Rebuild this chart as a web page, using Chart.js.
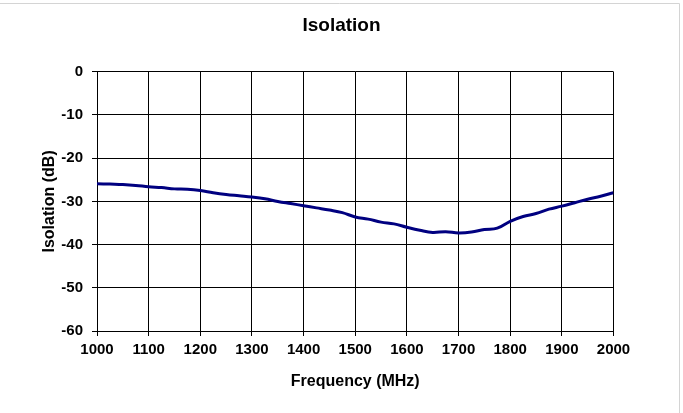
<!DOCTYPE html>
<html>
<head>
<meta charset="utf-8">
<script src="https://cdn.jsdelivr.net/npm/chart.js@4/dist/chart.umd.min.js"></script>
<style>
html,body{margin:0;padding:0;background:#fff;}
#wrap{width:683px;height:413px;position:relative;}
</style>
</head>
<body>
<div id="wrap"><canvas id="c" width="683" height="413"></canvas></div>
<script>
const frequencies = [1000,1025,1050,1075,1100,1125,1150,1175,1200,1225,1250,1275,1300,1325,1350,1375,1400,1425,1450,1475,1500,1525,1550,1575,1600,1625,1650,1675,1700,1725,1750,1775,1800,1825,1850,1875,1900,1925,1950,1975,2000];
const isolation = [-25.9,-26.0,-26.1,-26.3,-26.6,-26.8,-27.1,-27.2,-27.5,-28.0,-28.4,-28.7,-29.0,-29.4,-30.0,-30.5,-31.0,-31.5,-32.0,-32.6,-33.6,-34.1,-34.8,-35.2,-36.0,-36.7,-37.2,-37.0,-37.3,-37.1,-36.5,-36.2,-34.6,-33.5,-32.8,-31.8,-31.1,-30.3,-29.5,-28.8,-28.0];
const xTicks = [1000,1100,1200,1300,1400,1500,1600,1700,1800,1900,2000];
const yTicks = [0,-10,-20,-30,-40,-50,-60];
const chartTitle = 'Isolation';
const xTitle = 'Frequency (MHz)';
const yTitle = 'Isolation (dB)';

const FONT = '"Liberation Sans", Arial, sans-serif';

const frame = {
  id: 'frame',
  beforeDraw(chart) {
    const ctx = chart.ctx;
    ctx.save();
    ctx.fillStyle = '#ffffff';
    ctx.fillRect(0, 0, chart.width, chart.height);
    ctx.restore();
  },
  afterDraw(chart) {
    const ctx = chart.ctx;
    ctx.save();
    ctx.strokeStyle = '#d4d4d4';
    ctx.lineWidth = 1;
    ctx.beginPath();
    ctx.moveTo(0, 3.5);
    ctx.lineTo(679.5, 3.5);
    ctx.lineTo(679.5, 413);
    ctx.stroke();
    ctx.restore();
  }
};

new Chart(document.getElementById('c'), {
  type: 'line',
  data: {
    datasets: [{
      data: frequencies.map((f, i) => ({x: f, y: isolation[i]})),
      borderColor: '#000080',
      borderWidth: 3,
      pointRadius: 0,
      tension: 0.4,
      fill: false
    }]
  },
  options: {
    responsive: false,
    animation: false,
    devicePixelRatio: 1,
    layout: { padding: 0 },
    plugins: {
      legend: { display: false },
      tooltip: { enabled: false },
      title: {
        display: true,
        text: chartTitle,
        color: '#000',
        font: { family: FONT, size: 19, weight: 'bold' },
        padding: { top: 14, bottom: 35 }
      }
    },
    scales: {
      x: {
        type: 'linear',
        min: 1000, max: 2000,
        afterBuildTicks: s => { s.ticks = xTicks.map(v => ({value: v})); },
        afterFit: s => { s.height = 82; },
        grid: { color: '#000', lineWidth: 1, tickLength: 5, tickColor: '#000', drawTicks: true },
        border: { color: '#000', width: 1 },
        ticks: { color: '#000', font: { family: FONT, size: 15, weight: 'bold' }, padding: 5, maxRotation: 0, autoSkip: false, callback: v => String(v) },
        title: { display: true, text: xTitle, color: '#000', font: { family: FONT, size: 16, weight: 'bold' }, padding: { top: 0, bottom: 22 } }
      },
      y: {
        type: 'linear',
        position: 'left',
        min: -60, max: 0,
        afterBuildTicks: s => { s.ticks = yTicks.map(v => ({value: v})); },
        afterFit: s => { s.width = 97; },
        grid: { color: '#000', lineWidth: 1, tickLength: 5, tickColor: '#000', drawTicks: true },
        border: { color: '#000', width: 1 },
        ticks: { color: '#000', font: { family: FONT, size: 15, weight: 'bold' }, padding: 9, callback: v => String(v) },
        title: { display: true, text: yTitle, color: '#000', font: { family: FONT, size: 16, weight: 'bold' }, padding: { top: 40, bottom: 0 } }
      },
      yRight: {
        type: 'linear',
        position: 'right',
        min: -60, max: 0,
        afterFit: s => { s.width = 69.5; },
        grid: { display: false, drawOnChartArea: false, drawTicks: false },
        border: { display: false },
        ticks: { display: false }
      }
    }
  },
  plugins: [frame]
});
</script>
</body>
</html>
